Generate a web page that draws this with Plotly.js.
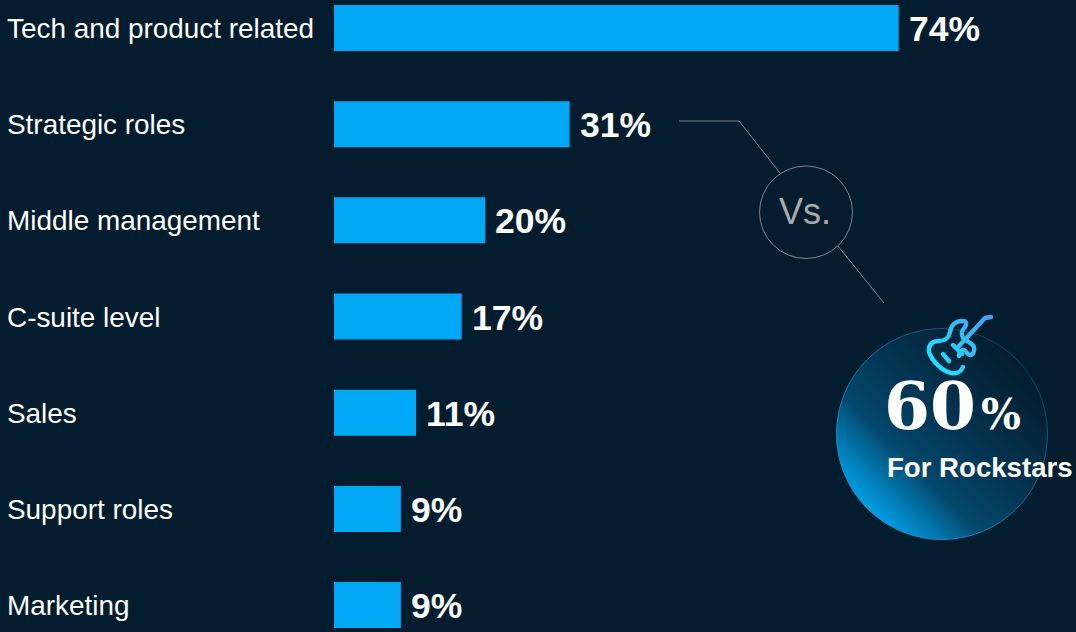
<!DOCTYPE html>
<html><head><meta charset="utf-8">
<script src="https://cdn.plot.ly/plotly-3.0.1.min.js"></script>
<style>html,body{margin:0;padding:0;background:#031d2e;overflow:hidden}#c{width:1076px;height:632px}</style>
</head><body><div id="c"></div>
<script>
const categories = ["Tech and product related","Strategic roles","Middle management","C-suite level","Sales","Support roles","Marketing"];
const barValues = [74.3,31,19.9,16.8,10.8,8.8,8.8];
const valueLabels = ["74%","31%","20%","17%","11%","9%","9%"];
const W=1076,H=632;
const pxPerUnit=7.6, x0=334;
const px=x=>x/W, py=y=>1-y/H;
const FONT='"Liberation Sans", Arial, sans-serif';
const badge='data:image/svg+xml;utf8,'+encodeURIComponent(`<svg xmlns="http://www.w3.org/2000/svg" width="216" height="216" viewBox="0 0 216 216"><defs><linearGradient id="g" x1="0.12" y1="0.88" x2="0.85" y2="0.15"><stop offset="0" stop-color="#00a9f4"/><stop offset="0.27" stop-color="#025a86"/><stop offset="0.33" stop-color="#03476c"/><stop offset="0.6" stop-color="#033450"/><stop offset="1" stop-color="#031d2e"/></linearGradient><linearGradient id="s" x1="0" y1="1" x2="1" y2="0"><stop offset="0" stop-color="#14a4e6"/><stop offset="0.6" stop-color="#0f6a9a"/><stop offset="1" stop-color="#0b2c44"/></linearGradient></defs><circle cx="108" cy="108" r="105.5" fill="url(#g)" stroke="url(#s)" stroke-width="1"/></svg>`);
const guitar='data:image/svg+xml;utf8,'+encodeURIComponent(`<svg xmlns="http://www.w3.org/2000/svg" width="80" height="72" viewBox="0 0 80 72"><defs><linearGradient id="g" gradientUnits="userSpaceOnUse" x1="10" y1="55" x2="72" y2="8"><stop offset="0" stop-color="#1ce4ff"/><stop offset="1" stop-color="#4a9df0"/></linearGradient></defs><g fill="none" stroke="url(#g)" stroke-width="4.4" stroke-linecap="round" stroke-linejoin="round"><path d="M71 7 L65 8 L39 36"/><path d="M43 57 C41 62 36 64 31 63 C22 61 12 51 9 42 C8 35 12 31 19 31 C26 31 29 28 30 22 C31 15 36 11 42 11 C47 11 47 14 45 17 C42 20 41 24 43 28 C46 31 52 33 54 37 C55 41 53 45 50 45 C47 45 47 41 44 40 C41 40 39 42 39 46"/><path d="M33 35 L42 44"/><path d="M23 44 L29 51"/></g></svg>`);
const line=(x1,y1,x2,y2)=>({type:'line',xref:'paper',yref:'paper',x0:px(x1),y0:py(y1),x1:px(x2),y1:py(y2),line:{color:'#7d858c',width:1}});
const ann=[];
categories.forEach((c,i)=>{
  ann.push({xref:'paper',yref:'y',x:px(5),y:c,text:c,showarrow:false,xanchor:'left',yanchor:'middle',yshift:-0.5,font:{family:FONT,size:27.9,color:'#ffffff'}});
  ann.push({xref:'x',yref:'y',x:barValues[i],y:c,text:'<b>'+valueLabels[i]+'</b>',showarrow:false,xanchor:'left',yanchor:'middle',xshift:8,yshift:-1,font:{family:FONT,size:35.5,color:'#ffffff'}});
});
ann.push({xref:'paper',yref:'paper',x:px(805),y:py(211),text:'Vs.',showarrow:false,xanchor:'center',yanchor:'middle',font:{family:FONT,size:36,color:'#aaaaaa'}});
ann.push({xref:'paper',yref:'paper',x:px(882),y:py(406),text:'<b>60</b>',showarrow:false,xanchor:'left',yanchor:'middle',font:{family:'"DejaVu Serif", serif',size:66,color:'#ffffff'}});
ann.push({xref:'paper',yref:'paper',x:px(979),y:py(414),text:'<b>%</b>',showarrow:false,xanchor:'left',yanchor:'middle',font:{family:'"DejaVu Serif", serif',size:42,color:'#ffffff'}});
ann.push({xref:'paper',yref:'paper',x:px(885),y:py(467),text:'<b>For Rockstars</b>',showarrow:false,xanchor:'left',yanchor:'middle',font:{family:FONT,size:27.6,color:'#ffffff'}});
const data=[{type:'bar',orientation:'h',y:categories,x:barValues,marker:{color:'#00a8f5',line:{width:0}},width:46/96.17,hoverinfo:'skip'}];
const layout={width:W,height:H,margin:{l:0,r:0,t:0,b:0,pad:0},paper_bgcolor:'#031d2e',plot_bgcolor:'#031d2e',showlegend:false,
 xaxis:{range:[-x0/pxPerUnit,(W-x0)/pxPerUnit],visible:false,fixedrange:true},
 yaxis:{type:'category',categoryorder:'array',categoryarray:categories,range:[6.28,-0.291],visible:false,fixedrange:true},
 annotations:ann,
 shapes:[line(679,121,739,121),line(739,121,780,173),line(838,246,884,303),
  {type:'circle',xref:'paper',yref:'paper',x0:px(759.5),x1:px(852.5),y0:py(258.5),y1:py(166),line:{color:'#7d858c',width:1},fillcolor:'rgba(0,0,0,0)'}],
 images:[
  {source:badge,xref:'paper',yref:'paper',x:px(834),y:py(326),sizex:216/W,sizey:216/H,xanchor:'left',yanchor:'top',sizing:'stretch',layer:'below'},
  {source:guitar,xref:'paper',yref:'paper',x:px(920),y:py(310),sizex:80/W,sizey:72/H,xanchor:'left',yanchor:'top',sizing:'stretch',layer:'above'}
 ]};
Plotly.newPlot('c',data,layout,{displayModeBar:false,staticPlot:true});
</script></body></html>
